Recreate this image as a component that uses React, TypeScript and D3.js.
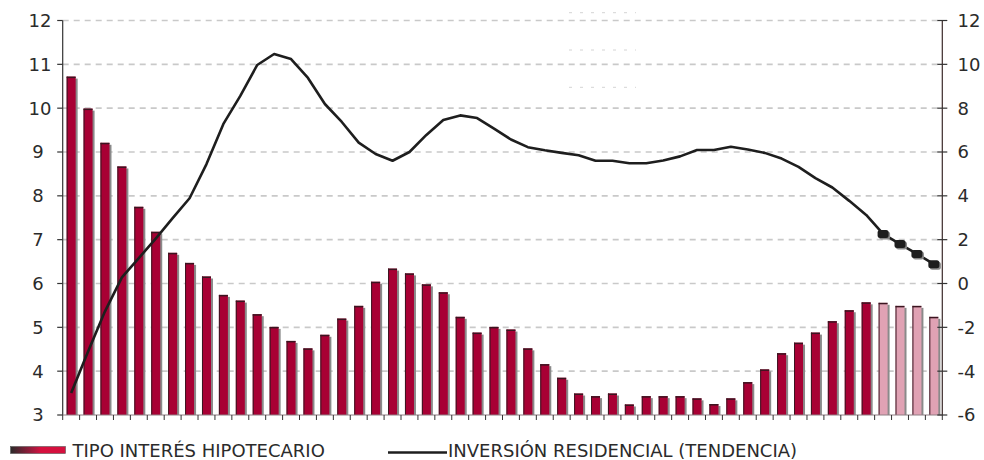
import React from "react";
import * as d3 from "d3";

// Tipo de interés hipotecario (left axis, %)
const tipoInteres: number[] = [
  10.72, 9.99, 9.21, 8.67, 7.75, 7.18, 6.7, 6.47, 6.16, 5.74,
  5.61, 5.3, 5.01, 4.69, 4.52, 4.83, 5.2, 5.49, 6.04, 6.34,
  6.23, 5.98, 5.8, 5.24, 4.88, 5.01, 4.95, 4.52, 4.16, 3.85,
  3.49, 3.43, 3.49, 3.24, 3.43, 3.43, 3.43, 3.38, 3.25, 3.38,
  3.75, 4.04, 4.41, 4.65, 4.88, 5.14, 5.39, 5.57, 5.56, 5.49,
  5.49, 5.24,
];
// number of final bars that are forecasts (lighter colour)
const forecastCount = 4;

// Inversión residencial (tendencia) (right axis)
const inversion: number[] = [
  -5.0, -3.1, -1.27, 0.28, 1.16, 2.05, 2.98, 3.89, 5.45, 7.28,
  8.56, 9.97, 10.47, 10.24, 9.38, 8.19, 7.37, 6.43, 5.91, 5.6,
  6.0, 6.78, 7.46, 7.67, 7.55, 7.07, 6.57, 6.22, 6.08, 5.96,
  5.85, 5.6, 5.6, 5.49, 5.49, 5.61, 5.8, 6.09, 6.09, 6.24,
  6.11, 5.96, 5.7, 5.32, 4.81, 4.38, 3.77, 3.13, 2.26, 1.8,
  1.35, 0.88,
];

const leftTicks = [3, 4, 5, 6, 7, 8, 9, 10, 11, 12];
const rightTicks = [-6, -4, -2, 0, 2, 4, 6, 8, 10, 12];
const legendLabels = ["TIPO INTERÉS HIPOTECARIO", "INVERSIÓN RESIDENCIAL (TENDENCIA)"];

const W = 984;
const H = 460;
const FONT = "'DejaVu Sans', sans-serif";
const TEXT = "#2b2b2b";
const BAR = "#a80034";
const BAR_F = "#e0a2b4";
const OUTLINE = "#3a1520";

export default function App() {
  const left = 62.7;
  const right = 942.3;
  const top = 20.5;
  const bottom = 415;

  const idx = tipoInteres.map((_, i) => i);
  const x = d3.scaleBand<number>().domain(idx).range([left, right]).padding(0);
  const yL = d3.scaleLinear().domain([3, 12]).range([bottom, top]);
  const yR = d3.scaleLinear().domain([-6, 12]).range([bottom, top]);
  const bw = 9;
  const cx = (i: number) => (x(i) as number) + x.bandwidth() / 2;

  const line = d3
    .line<number>()
    .x((_, i) => cx(i))
    .y((d) => yR(d));

  const nF = tipoInteres.length - forecastCount;
  const markerIdx = idx.slice(nF);

  return (
    <svg width={W} height={H} style={{ position: "absolute", left: 0, top: 0, background: "#fff" }}>
      <defs>
        <linearGradient id="legGrad" x1="0" x2="1" y1="0" y2="0">
          <stop offset="0" stopColor="#2a2a2a" />
          <stop offset="0.45" stopColor="#b0183e" />
          <stop offset="0.55" stopColor="#d5103e" />
          <stop offset="1" stopColor="#d5103e" />
        </linearGradient>
      </defs>

      {/* gridlines */}
      {leftTicks.slice(1).map((t) => (
        <line
          key={"g" + t}
          x1={left}
          x2={right}
          y1={yL(t)}
          y2={yL(t)}
          stroke="#c9c9c9"
          strokeWidth={1.6}
          strokeDasharray="6 5"
        />
      ))}

      {/* faint dotted artefacts near top */}
      {[12.7, 50, 87.3].map((yy) => (
        <line key={"a" + yy} x1={569} x2={636} y1={yy} y2={yy} stroke="#d4d4d4" strokeWidth={1} strokeDasharray="3 8" />
      ))}

      {/* bars */}
      {tipoInteres.map((v, i) => {
        const bx = cx(i) - bw / 2;
        const by = yL(v);
        const h = bottom - by;
        const forecast = i >= nF;
        return (
          <g key={"b" + i}>
            <rect x={bx + 2} y={by + 2} width={bw} height={h - 2} fill="#8a8a8a" />
            <rect x={bx} y={by} width={bw} height={h} fill={forecast ? BAR_F : BAR} />
            <line x1={bx + 0.5} x2={bx + 0.5} y1={by} y2={bottom} stroke={OUTLINE} strokeWidth={1} />
            <line x1={bx} x2={bx + bw} y1={by + 0.75} y2={by + 0.75} stroke={OUTLINE} strokeWidth={1.5} />
          </g>
        );
      })}

      {/* axes */}
      <line x1={left} x2={left} y1={top} y2={bottom} stroke="#333" strokeWidth={1.2} />
      <line x1={right} x2={right} y1={top} y2={bottom} stroke="#3a2a2a" strokeWidth={1.2} />
      <line x1={left} x2={right} y1={bottom} y2={bottom} stroke="#8f7f84" strokeWidth={1.2} />
      {leftTicks.map((t) => (
        <line key={"lt" + t} x1={left - 5.5} x2={left} y1={yL(t)} y2={yL(t)} stroke="#333" strokeWidth={1.2} />
      ))}
      {rightTicks.map((t) => (
        <line key={"rt" + t} x1={right - 5} x2={right + 5} y1={yR(t)} y2={yR(t)} stroke="#333" strokeWidth={1.2} />
      ))}
      {d3.range(tipoInteres.length + 1).map((i) => {
        const xx = left + i * x.step();
        return <line key={"xt" + i} x1={xx} x2={xx} y1={bottom} y2={bottom + 5} stroke="#333" strokeWidth={1} />;
      })}

      {/* tick labels */}
      {leftTicks.map((t) => (
        <text
          key={"ll" + t}
          x={t >= 10 ? 40 : 38}
          y={yL(t)}
          dy="0.36em"
          textAnchor="middle"
          fontFamily={FONT}
          fontSize={18}
          fill={TEXT}
        >
          {t}
        </text>
      ))}
      {rightTicks.map((t) => (
        <text
          key={"rl" + t}
          x={957.5}
          y={yR(t)}
          dy="0.36em"
          textAnchor="start"
          fontFamily={FONT}
          fontSize={18}
          fill={TEXT}
        >
          {t}
        </text>
      ))}

      {/* line */}
      <path d={line(inversion) || ""} fill="none" stroke="#1e1e1e" strokeWidth={2.6} strokeLinejoin="round" />
      {markerIdx.map((i) => (
        <g key={"m" + i}>
          <rect x={cx(i) - 4} y={yR(inversion[i]) - 2.5} width={11} height={8} rx={2.5} fill="#888" />
          <rect x={cx(i) - 5.5} y={yR(inversion[i]) - 4} width={11} height={8} rx={2.5} fill="#1e1e1e" />
        </g>
      ))}

      {/* legend */}
      <rect x={10.5} y={446.5} width={55} height={7} fill="url(#legGrad)" stroke="#555" strokeWidth={0.6} />
      <text x={72.5} y={457} fontFamily={FONT} fontSize={18} fill={TEXT}>
        {legendLabels[0]}
      </text>
      <line x1={388} x2={447} y1={452.5} y2={452.5} stroke="#1e1e1e" strokeWidth={2.6} />
      <text x={448} y={457} fontFamily={FONT} fontSize={18} fill={TEXT}>
        {legendLabels[1]}
      </text>
    </svg>
  );
}
